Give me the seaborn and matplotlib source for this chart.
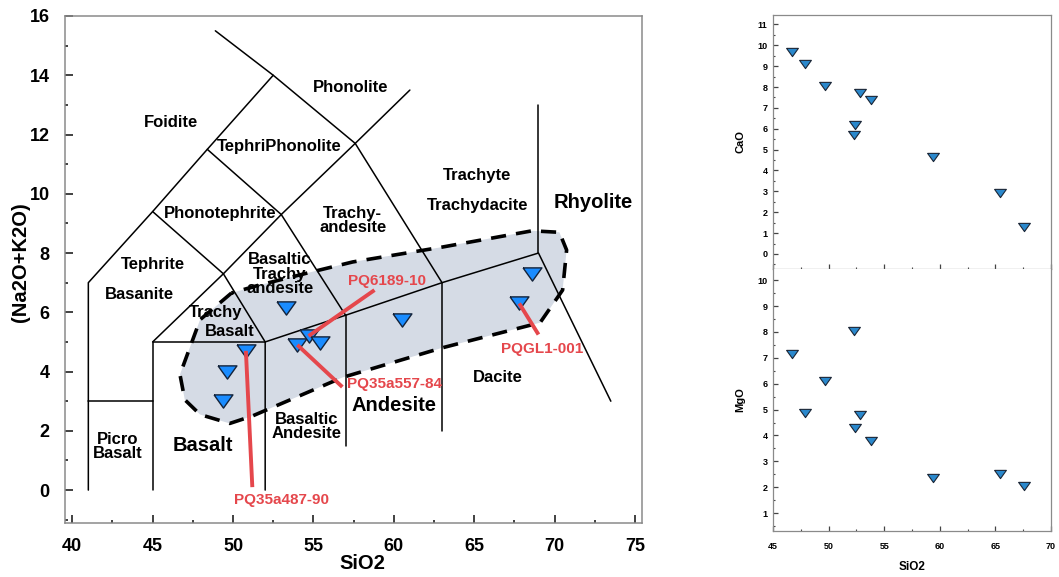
"""
TAS classification diagram with two Harker panels (CaO, MgO vs SiO2).
Writes out.png
"""
import matplotlib
matplotlib.use('Agg')
import matplotlib.pyplot as plt
import seaborn as sns
import pandas as pd
from matplotlib.ticker import MultipleLocator

# samples plotted on the TAS diagram
tas_sio2 = [49.6, 49.4, 50.8, 53.3, 54.0, 54.7, 55.4, 60.5, 67.8, 68.6]
tas_alk = [4.0, 3.0, 4.7, 6.15, 4.9, 5.2, 4.95, 5.75, 6.3, 7.3]

# samples on the Harker panels
harker_sio2 = [46.7, 47.9, 49.7, 52.3, 52.4, 52.8, 53.8, 59.4, 65.4, 67.6]
cao = [9.7, 9.1, 8.05, 5.7, 6.2, 7.7, 7.4, 4.65, 2.9, 1.3]
mgo = [7.15, 4.85, 6.1, 8.05, 4.3, 4.8, 3.8, 2.35, 2.5, 2.05]

# TAS field boundaries (SiO2, Na2O+K2O)
tas_lines = [
    [(41, 0), (41, 7), (45, 9.4), (48.4, 11.5), (52.5, 14)],
    [(41, 3), (45, 3)],
    [(45, 0), (45, 5), (52, 5)],
    [(52, 0), (52, 5), (57, 5.9), (63, 7), (69, 8), (73.5, 3)],
    [(57, 1.5), (57, 5.9)],
    [(63, 2), (63, 7)],
    [(69, 8), (69, 13)],
    [(45, 5), (49.4, 7.3), (53, 9.3), (57.6, 11.7), (61, 13.5)],
    [(45, 9.4), (49.4, 7.3), (52, 5)],
    [(48.4, 11.5), (53, 9.3), (57, 5.9)],
    [(48.9, 15.5), (52.5, 14), (57.6, 11.7), (63, 7)],
]

# outlined sample field
field_sio2 = [49.9, 47.95, 46.7, 47.0, 47.95, 49.8, 51.2, 56.8, 63.0, 69.1,
              70.5, 70.75, 70.3, 68.6, 63.0, 57.45, 54.8, 51.5]
field_alk = [6.65, 5.75, 3.9, 3.05, 2.55, 2.25, 2.5, 3.8, 4.8, 5.65,
             6.75, 8.1, 8.7, 8.75, 8.2, 7.7, 7.35, 6.9]

# field names: text, x, y, size
field_labels = [
    ('Foidite', 46.15, 12.4, 12),
    ('Phonolite', 57.3, 13.6, 12),
    ('TephriPhonolite', 52.9, 11.6, 12),
    ('Phonotephrite', 49.2, 9.35, 12),
    ('Trachy-\nandesite', 57.45, 9.1, 12),
    ('Trachyte', 65.2, 10.6, 12),
    ('Trachydacite', 65.2, 9.6, 12),
    ('Rhyolite', 72.4, 9.7, 14.5),
    ('Tephrite', 45.0, 7.6, 12),
    ('Basanite', 44.2, 6.6, 12),
    ('Basaltic\nTrachy\nandesite', 52.9, 7.28, 12),
    ('Trachy', 48.9, 6.0, 12),
    ('Basalt', 49.8, 5.35, 12),
    ('Basalt', 48.15, 1.5, 14.5),
    ('Picro\nBasalt', 42.8, 1.48, 12),
    ('Basaltic\nAndesite', 54.6, 2.15, 12),
    ('Andesite', 60.0, 2.85, 14.5),
    ('Dacite', 66.5, 3.8, 12),
]

# red callouts: name, sample index, line start, text position
callouts = [
    ('PQ6189-10', 5, (58.8, 6.75), (59.6, 7.05)),
    ('PQ35a557-84', 4, (56.8, 3.48), (60.05, 3.58)),
    ('PQ35a487-90', 2, (51.2, 0.1), (53.0, -0.34)),
    ('PQGL1-001', 8, (69.0, 5.25), (69.2, 4.76)),
]

sns.set_style('white')
plt.rcParams['font.family'] = ['Liberation Sans', 'DejaVu Sans']
plt.rcParams['font.weight'] = 'bold'
plt.rcParams['text.color'] = 'black'
plt.rcParams['axes.labelcolor'] = 'black'

tri = [(-1, 0.7), (1, 0.7), (0, -0.7), (-1, 0.7)]
red = '#e5474c'

fig = plt.figure(figsize=(10.59, 5.77), dpi=100)
ax = fig.add_axes([0.0614, 0.0936, 0.5447, 0.8787])
ax_ca = fig.add_axes([0.730, 0.5338, 0.2625, 0.4402])
ax_mg = fig.add_axes([0.730, 0.0797, 0.2625, 0.4541])

# --- TAS diagram ---
ax.fill(field_sio2, field_alk, color='#d5dbe5', lw=0, zorder=1)
ax.plot(field_sio2 + field_sio2[:1], field_alk + field_alk[:1], color='black',
        lw=2.6, dashes=(4.2, 2.8), zorder=2)
for seg in tas_lines:
    xs, ys = zip(*seg)
    ax.plot(xs, ys, color='black', lw=1.1, zorder=3)
for txt, x, y, size in field_labels:
    ax.text(x, y, txt, ha='center', va='center', fontsize=size, color='black',
            fontweight='bold', linespacing=0.95, zorder=4)

df_tas = pd.DataFrame({'SiO2': tas_sio2, 'alk': tas_alk})
sns.scatterplot(data=df_tas, x='SiO2', y='alk', marker=tri, s=185,
                color='#1a8cff', edgecolor='#14233a', linewidth=1.0,
                ax=ax, zorder=5)

for name, i, start, pos in callouts:
    ax.plot([start[0], tas_sio2[i]], [start[1], tas_alk[i]], color=red,
            lw=2.8, solid_capstyle='butt', zorder=6)
    ax.text(pos[0], pos[1], name, color=red, fontsize=11, fontweight='bold',
            ha='center', va='center', zorder=7)

ax.set_xlim(39.55, 75.43)
ax.set_ylim(-1.11, 16.0)
ax.xaxis.set_major_locator(MultipleLocator(5))
ax.xaxis.set_minor_locator(MultipleLocator(2.5))
ax.yaxis.set_major_locator(MultipleLocator(2))
ax.yaxis.set_minor_locator(MultipleLocator(1))
ax.tick_params(which='both', direction='in', bottom=True, left=True,
               colors='#333333', labelcolor='black')
ax.tick_params(which='major', length=6, width=1.3, labelsize=13, pad=11)
ax.tick_params(which='minor', length=2.5, width=1.3)
ax.set_xlabel('SiO2', fontsize=14.5, fontweight='bold')
ax.set_ylabel('(Na2O+K2O)', fontsize=14.5, fontweight='bold')
ax.xaxis.set_label_coords(0.515, -0.062)
ax.yaxis.set_label_coords(-0.06, 0.515)
for lab in ax.get_xticklabels() + ax.get_yticklabels():
    lab.set_fontweight('bold')
for sp in ax.spines.values():
    sp.set_color('#8a8a8a')
    sp.set_linewidth(1.1)

# --- Harker panels ---
df_h = pd.DataFrame({'SiO2': harker_sio2, 'CaO': cao, 'MgO': mgo})
for a, col in [(ax_ca, 'CaO'), (ax_mg, 'MgO')]:
    sns.scatterplot(data=df_h, x='SiO2', y=col, marker=tri, s=72,
                    color='#2a88cc', edgecolor='#1b2636', linewidth=0.8, ax=a)
    a.set_xlim(45, 70)
    a.xaxis.set_major_locator(MultipleLocator(5))
    a.xaxis.set_minor_locator(MultipleLocator(2.5))
    a.yaxis.set_major_locator(MultipleLocator(1))
    a.yaxis.set_minor_locator(MultipleLocator(0.5))
    a.tick_params(which='both', direction='in', bottom=True, left=True,
                  colors='#444444', labelcolor='black')
    a.tick_params(which='major', length=3.5, width=0.9, labelsize=6.5, pad=4)
    a.tick_params(which='minor', length=1.5, width=0.8)
    a.set_ylabel(col, fontsize=8, fontweight='bold')
    a.yaxis.set_label_coords(-0.1, 0.5)
    for lab in a.get_xticklabels() + a.get_yticklabels():
        lab.set_fontweight('bold')
    for sp in a.spines.values():
        sp.set_color('#8a8a8a')
        sp.set_linewidth(0.9)

ax_ca.set_ylim(-0.72, 11.45)
ax_ca.set_xlabel('')
ax_ca.tick_params(labelbottom=False)
ax_mg.set_ylim(0.31, 10.43)
ax_mg.set_xlabel('SiO2', fontsize=8.5, fontweight='bold')
ax_mg.tick_params(axis='x', pad=8)
ax_mg.xaxis.set_label_coords(0.5, -0.115)
ax_mg.spines['top'].set_visible(False)

fig.savefig('out.png', dpi=100)
plt.close(fig)
